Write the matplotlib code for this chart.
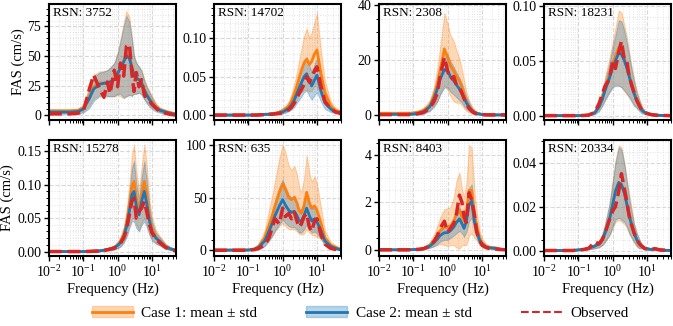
# %%
import numpy as np
import matplotlib
matplotlib.use("Agg")
import matplotlib.pyplot as plt
from matplotlib.patches import Patch
from matplotlib.lines import Line2D
from matplotlib.ticker import AutoMinorLocator

plt.rcParams["font.family"] = ["Liberation Serif", "DejaVu Serif"]
plt.rcParams["mathtext.fontset"] = "stix"

# ========================================
# data
# ========================================
freq = [0.01, 0.02, 0.04, 0.07, 0.1, 0.15, 0.2, 0.3, 0.4, 0.5, 0.6, 0.8, 1.0, 1.2, 1.5, 1.8,
        2.2, 2.6, 3.0, 3.5, 4.2, 5.0, 6.0, 7.0, 8.5, 10, 13, 17, 25, 35, 50]

rsn = ["3752", "14702", "2308", "18231", "15278", "635", "8403", "20334"]

# case 1 mean / std, case 2 mean / std, observed
mean1_3752 = [3.5, 3.5, 3.5, 4, 6, 16, 24, 27, 27, 27, 28, 30, 35, 40, 46, 52, 50, 42, 34, 31, 30, 28, 22, 18, 14, 11, 7, 4.5, 3, 2, 1]
std1_3752 = [1.5, 1.5, 1.5, 1.5, 3, 8, 10, 10, 10, 11, 12, 14, 18, 24, 32, 36, 33, 25, 16, 13, 11, 10, 8, 7, 6, 5, 3, 2, 1.5, 1, 0.5]
mean2_3752 = [2.5, 2.5, 2.5, 3, 5, 14, 22, 26, 27, 27, 28, 30, 35, 40, 45, 50, 48, 40, 34, 31, 30, 27, 21, 17, 13, 10, 6, 4, 2.5, 1.5, 0.5]
std2_3752 = [1.5, 1.5, 1.5, 1.5, 3, 8, 10, 10, 10, 11, 12, 14, 17, 22, 30, 34, 31, 24, 16, 13, 11, 10, 8, 7, 6, 5, 3, 2, 1.5, 1, 0.5]
obs_3752 = [1, 1, 1, 1.5, 3, 22, 34, 22, 15, 28, 18, 38, 24, 44, 33, 58, 60, 35, 20, 36, 24, 30, 17, 14, 12, 9, 6, 3, 1.5, 0.5, 0]

mean1_14702 = [0, 0, 0, 0, 0, 0, 0.0005, 0.001, 0.0015, 0.002, 0.0025, 0.004, 0.006, 0.008, 0.012, 0.018,
               0.028, 0.038, 0.048, 0.058, 0.068, 0.073, 0.066, 0.07, 0.08, 0.085, 0.055, 0.03, 0.012, 0.006, 0.004]
std1_14702 = [0, 0, 0, 0, 0, 0, 0.0003, 0.0005, 0.0008, 0.001, 0.0012, 0.002, 0.003, 0.004, 0.006, 0.009,
              0.014, 0.018, 0.022, 0.028, 0.035, 0.04, 0.035, 0.038, 0.042, 0.048, 0.03, 0.015, 0.006, 0.003, 0.002]
mean2_14702 = [0, 0, 0, 0, 0, 0, 0.0004, 0.0008, 0.001, 0.0015, 0.002, 0.003, 0.004, 0.006, 0.009, 0.013,
               0.02, 0.028, 0.035, 0.042, 0.05, 0.054, 0.045, 0.038, 0.046, 0.052, 0.032, 0.016, 0.008, 0.004, 0.003]
std2_14702 = [0, 0, 0, 0, 0, 0, 0.0002, 0.0004, 0.0005, 0.0008, 0.001, 0.0015, 0.002, 0.003, 0.004, 0.006,
              0.009, 0.012, 0.015, 0.018, 0.02, 0.022, 0.02, 0.018, 0.02, 0.022, 0.014, 0.008, 0.004, 0.002, 0.001]
obs_14702 = [0, 0, 0, 0, 0, 0, 0, 0.0005, 0.001, 0.001, 0.0015, 0.002, 0.003, 0.005, 0.007, 0.01,
             0.016, 0.022, 0.028, 0.033, 0.04, 0.05, 0.043, 0.048, 0.058, 0.063, 0.038, 0.018, 0.008, 0.004, 0.002]

mean1_2308 = [0.7, 0.7, 0.7, 0.7, 0.8, 1.2, 1.8, 3.5, 7, 11, 16, 24, 21, 18, 16, 14, 12.5, 10, 7.5, 5, 3.2, 2, 1.2, 0.8, 0.5, 0.3, 0.2, 0.1, 0.1, 0.1, 0.1]
std1_2308 = [0.3, 0.3, 0.3, 0.3, 0.4, 0.6, 0.9, 1.8, 3.5, 6, 8.5, 13, 12, 11, 11, 9.5, 8, 6.5, 5, 3.5, 2.2, 1.4, 0.8, 0.5, 0.3, 0.2, 0.1, 0.1, 0.1, 0.1, 0.1]
mean2_2308 = [0.3, 0.3, 0.3, 0.3, 0.4, 0.8, 1.3, 3, 6, 9.5, 13, 16.5, 16, 14, 12.5, 11, 9.5, 8, 6.3, 4.5, 3, 1.8, 1, 0.6, 0.4, 0.2, 0.1, 0.1, 0.1, 0.1, 0.1]
std2_2308 = [0.2, 0.2, 0.2, 0.2, 0.3, 0.5, 0.8, 1.5, 3, 4.5, 5.5, 6.5, 6, 5.5, 5, 4.5, 4, 3.5, 3, 2.2, 1.5, 1, 0.6, 0.4, 0.2, 0.1, 0.1, 0.1, 0.1, 0.1, 0.1]
obs_2308 = [0.2, 0.2, 0.2, 0.2, 0.3, 0.6, 1, 2.5, 5, 8, 14, 21, 16, 13, 14, 11, 10, 8, 6, 4, 2.5, 1.5, 0.8, 0.5, 0.3, 0.2, 0.1, 0.1, 0.1, 0.1, 0.1]

mean1_18231 = [0, 0, 0, 0, 0, 0.0002, 0.0006, 0.003, 0.009, 0.017, 0.025, 0.037, 0.047, 0.054, 0.062, 0.06,
               0.052, 0.045, 0.038, 0.03, 0.022, 0.015, 0.01, 0.006, 0.003, 0.002, 0.001, 0.0005, 0.0002, 0.0001, 0]
std1_18231 = [0, 0, 0, 0, 0, 0.0001, 0.0003, 0.0015, 0.004, 0.007, 0.01, 0.015, 0.02, 0.026, 0.034, 0.034,
              0.03, 0.026, 0.021, 0.016, 0.012, 0.008, 0.005, 0.003, 0.0015, 0.001, 0.0005, 0.0003, 0.0001, 0.0001, 0]
mean2_18231 = [0, 0, 0, 0, 0, 0.0002, 0.0005, 0.0025, 0.008, 0.015, 0.023, 0.034, 0.044, 0.05, 0.057, 0.056,
               0.05, 0.043, 0.036, 0.028, 0.02, 0.014, 0.009, 0.005, 0.003, 0.002, 0.001, 0.0005, 0.0002, 0.0001, 0]
std2_18231 = [0, 0, 0, 0, 0, 0.0001, 0.0003, 0.0013, 0.004, 0.006, 0.009, 0.013, 0.018, 0.023, 0.03, 0.03,
              0.027, 0.023, 0.019, 0.015, 0.011, 0.007, 0.005, 0.003, 0.0015, 0.001, 0.0005, 0.0003, 0.0001, 0.0001, 0]
obs_18231 = [0, 0, 0, 0, 0, 0.0002, 0.0005, 0.003, 0.011, 0.02, 0.027, 0.033, 0.05, 0.043, 0.058, 0.068,
             0.05, 0.049, 0.036, 0.029, 0.021, 0.014, 0.009, 0.005, 0.003, 0.002, 0.001, 0.0005, 0.0002, 0.0001, 0]

mean1_15278 = [0, 0, 0, 0, 0, 0.0003, 0.0006, 0.001, 0.002, 0.003, 0.004, 0.006, 0.01, 0.015, 0.025, 0.042,
               0.07, 0.097, 0.105, 0.08, 0.062, 0.085, 0.105, 0.085, 0.05, 0.035, 0.022, 0.016, 0.008, 0.004, 0.002]
std1_15278 = [0, 0, 0, 0, 0, 0.0002, 0.0003, 0.0005, 0.001, 0.0015, 0.002, 0.003, 0.005, 0.007, 0.011, 0.018,
              0.03, 0.048, 0.055, 0.04, 0.03, 0.042, 0.055, 0.045, 0.025, 0.017, 0.01, 0.007, 0.004, 0.002, 0.001]
mean2_15278 = [0, 0, 0, 0, 0, 0.0003, 0.0005, 0.001, 0.002, 0.003, 0.004, 0.006, 0.009, 0.013, 0.022, 0.036,
               0.06, 0.085, 0.09, 0.068, 0.055, 0.075, 0.09, 0.072, 0.045, 0.03, 0.02, 0.015, 0.007, 0.004, 0.002]
std2_15278 = [0, 0, 0, 0, 0, 0.0002, 0.0003, 0.0005, 0.001, 0.0015, 0.002, 0.003, 0.004, 0.006, 0.009, 0.015,
              0.025, 0.04, 0.045, 0.033, 0.025, 0.035, 0.045, 0.035, 0.02, 0.014, 0.008, 0.006, 0.003, 0.002, 0.001]
obs_15278 = [0, 0, 0, 0, 0, 0.0002, 0.0004, 0.0008, 0.0015, 0.0025, 0.0035, 0.005, 0.008, 0.012, 0.02, 0.032,
             0.055, 0.075, 0.08, 0.05, 0.06, 0.065, 0.075, 0.06, 0.04, 0.028, 0.018, 0.013, 0.006, 0.003, 0.001]

mean1_635 = [0.5, 0.5, 0.5, 0.5, 0.6, 1.5, 4, 12, 24, 33, 42, 55, 63, 58, 50, 48, 50, 45, 38, 35, 42, 55, 45, 40, 42, 38, 26, 12, 5, 3, 1]
std1_635 = [0.3, 0.3, 0.3, 0.3, 0.4, 1, 2.5, 7, 14, 19, 24, 32, 37, 35, 30, 28, 30, 27, 22, 20, 26, 35, 28, 25, 28, 25, 15, 7, 3, 2, 0.5]
mean2_635 = [0.3, 0.3, 0.3, 0.3, 0.4, 1.2, 3, 9, 18, 26, 33, 42, 48, 43, 38, 36, 37, 33, 28, 28, 33, 40, 33, 28, 30, 27, 19, 9, 4, 2, 0.5]
std2_635 = [0.2, 0.2, 0.2, 0.2, 0.3, 0.8, 2, 5, 9, 12, 14, 17, 19, 17, 15, 14, 15, 13, 11, 11, 13, 15, 13, 11, 12, 11, 8, 4, 2, 1, 0.3]
obs_635 = [0.2, 0.2, 0.2, 0.2, 0.3, 0.8, 2, 5, 12, 22, 30, 25, 40, 32, 35, 30, 36, 28, 22, 25, 32, 35, 22, 18, 28, 30, 15, 6, 2, 1, 0.3]

mean1_8403 = [0, 0, 0, 0, 0.01, 0.03, 0.06, 0.2, 0.4, 0.6, 0.8, 0.95, 0.95, 1.0, 1.2, 1.5, 1.65, 1.4, 1.2, 1.5, 2.5, 2.5, 1.5, 1.0, 0.5, 0.3, 0.15, 0.1, 0.08, 0.03, 0.01]
std1_8403 = [0, 0, 0, 0, 0.01, 0.02, 0.04, 0.1, 0.25, 0.4, 0.55, 0.75, 0.8, 0.8, 1.0, 1.4, 1.6, 1.2, 1.0, 1.3, 1.9, 1.8, 1.0, 0.6, 0.3, 0.2, 0.1, 0.07, 0.05, 0.02, 0.01]
mean2_8403 = [0, 0, 0, 0, 0.01, 0.02, 0.05, 0.15, 0.3, 0.45, 0.6, 0.72, 0.72, 0.8, 0.95, 1.15, 1.3, 1.1, 0.9, 1.2, 1.9, 2.05, 1.2, 0.8, 0.4, 0.25, 0.12, 0.08, 0.06, 0.02, 0.01]
std2_8403 = [0, 0, 0, 0, 0.01, 0.01, 0.03, 0.07, 0.15, 0.2, 0.25, 0.3, 0.3, 0.3, 0.35, 0.45, 0.5, 0.4, 0.35, 0.45, 0.7, 0.7, 0.4, 0.3, 0.15, 0.1, 0.05, 0.03, 0.02, 0.01, 0.01]
obs_8403 = [0, 0, 0, 0, 0.01, 0.02, 0.05, 0.15, 0.35, 0.6, 0.9, 1.2, 0.75, 0.9, 1.1, 1.5, 2.3, 2.0, 1.4, 1.15, 2.4, 2.1, 1.5, 0.75, 0.4, 0.2, 0.1, 0.05, 0.03, 0.01, 0]

mean1_20334 = [0, 0, 0, 0, 0.0003, 0.0006, 0.001, 0.002, 0.003, 0.005, 0.008, 0.014, 0.021, 0.027, 0.031, 0.03,
               0.026, 0.021, 0.017, 0.013, 0.008, 0.005, 0.003, 0.002, 0.001, 0.0008, 0.0005, 0.0008, 0.0003, 0.0001, 0]
std1_20334 = [0, 0, 0, 0, 0.0002, 0.0003, 0.0005, 0.001, 0.0015, 0.0025, 0.004, 0.007, 0.011, 0.014, 0.017, 0.017,
              0.014, 0.011, 0.009, 0.007, 0.0045, 0.003, 0.002, 0.001, 0.0006, 0.0004, 0.0003, 0.0004, 0.0002, 0.0001, 0]
mean2_20334 = [0, 0, 0, 0, 0.0003, 0.0005, 0.001, 0.002, 0.003, 0.005, 0.008, 0.014, 0.021, 0.027, 0.031, 0.03,
               0.026, 0.021, 0.016, 0.012, 0.008, 0.005, 0.003, 0.002, 0.001, 0.0008, 0.0005, 0.0008, 0.0003, 0.0001, 0]
std2_20334 = [0, 0, 0, 0, 0.0002, 0.0003, 0.0005, 0.001, 0.0015, 0.0025, 0.004, 0.007, 0.01, 0.013, 0.016, 0.016,
              0.013, 0.01, 0.008, 0.006, 0.004, 0.003, 0.002, 0.001, 0.0006, 0.0004, 0.0003, 0.0004, 0.0002, 0.0001, 0]
obs_20334 = [0, 0, 0, 0, 0.0003, 0.0005, 0.001, 0.004, 0.003, 0.005, 0.008, 0.014, 0.018, 0.02, 0.027, 0.035,
             0.028, 0.022, 0.016, 0.012, 0.008, 0.005, 0.003, 0.002, 0.001, 0.0007, 0.0004, 0.0008, 0.0002, 0.0001, 0]

mean1_all = [mean1_3752, mean1_14702, mean1_2308, mean1_18231, mean1_15278, mean1_635, mean1_8403, mean1_20334]
std1_all = [std1_3752, std1_14702, std1_2308, std1_18231, std1_15278, std1_635, std1_8403, std1_20334]
mean2_all = [mean2_3752, mean2_14702, mean2_2308, mean2_18231, mean2_15278, mean2_635, mean2_8403, mean2_20334]
std2_all = [std2_3752, std2_14702, std2_2308, std2_18231, std2_15278, std2_635, std2_8403, std2_20334]
obs_all = [obs_3752, obs_14702, obs_2308, obs_18231, obs_15278, obs_635, obs_8403, obs_20334]

# axis limits / ticks per panel
ylims = [(-4.3, 94), (-0.0066, 0.145), (-1.8, 40.3), (-0.0041, 0.1018),
         (-0.0067, 0.167), (-5.2, 104.5), (-0.26, 4.62), (-0.0025, 0.0504)]
yticks = [[0, 25, 50, 75], [0, 0.05, 0.10], [0, 20, 40], [0, 0.05, 0.10],
          [0, 0.05, 0.10, 0.15], [0, 50, 100], [0, 2, 4], [0, 0.02, 0.04]]
yfmt = ["%d", "%.2f", "%d", "%.2f", "%.2f", "%d", "%d", "%.2f"]

C1 = "#ff7f0e"
C2 = "#1f77b4"
C3 = "#d62728"

# ========================================
# plot
# ========================================
fig, axes = plt.subplots(2, 4, figsize=(6.73, 3.26), dpi=100, sharex=True)
fig.subplots_adjust(left=49 / 673, right=671 / 673, top=1 - 4 / 326, bottom=1 - 256 / 326,
                    wspace=0.30, hspace=0.17)

f = np.array(freq)
for i, ax in enumerate(axes.flat):
    m1 = np.array(mean1_all[i])
    s1 = np.array(std1_all[i])
    m2 = np.array(mean2_all[i])
    s2 = np.array(std2_all[i])
    ax.fill_between(f, m1 - s1, m1 + s1, color=C1, alpha=0.3, lw=0.8)
    ax.fill_between(f, m2 - s2, m2 + s2, color=C2, alpha=0.3, lw=0.8)
    ax.plot(f, m1, color=C1, lw=2)
    ax.plot(f, m2, color=C2, lw=2)
    ax.plot(f, obs_all[i], color=C3, lw=2.5, ls="--")

    ax.set_xscale("log")
    ax.set_xlim(0.01, 50)
    ax.set_ylim(ylims[i])
    ax.set_yticks(yticks[i])
    ax.set_yticklabels([yfmt[i] % v for v in yticks[i]])
    ax.yaxis.set_minor_locator(AutoMinorLocator())
    ax.grid(True, which="major", ls="--", color="#d9d9d9", lw=0.8)
    ax.grid(True, which="minor", ls=":", color="#e3e3e3", lw=0.7)
    ax.set_axisbelow(True)
    ax.tick_params(which="major", length=3.5, width=1, labelsize=10, pad=2)
    ax.tick_params(which="minor", length=2, width=0.7)
    for sp in ax.spines.values():
        sp.set_linewidth(1.5)
    ax.text(0.03, 0.97, "RSN: " + rsn[i], transform=ax.transAxes, ha="left", va="top", fontsize=9.5)
    if i % 4 == 0:
        ax.set_ylabel("FAS (cm/s)", fontsize=10.5, labelpad=2)
    if i >= 4:
        ax.set_xlabel("Frequency (Hz)", fontsize=10.5, labelpad=2)
        ax.set_xticks([0.01, 0.1, 1, 10])

# legend
h1 = (Patch(facecolor=C1, edgecolor=C1, alpha=0.3), Line2D([], [], color=C1, lw=2))
h2 = (Patch(facecolor=C2, edgecolor=C2, alpha=0.3), Line2D([], [], color=C2, lw=2))
h3 = Line2D([], [], color=C3, lw=1.5, ls="--")
fig.legend([h1, h2, h3], ["Case 1: mean \u00b1 std", "Case 2: mean \u00b1 std", "Observed"],
           loc="center", bbox_to_anchor=(360 / 673, 1 - 313 / 326), ncol=3, frameon=False,
           fontsize=11, handlelength=2.7, handletextpad=0.55, columnspacing=3.2)

plt.savefig("out.png", dpi=100)
